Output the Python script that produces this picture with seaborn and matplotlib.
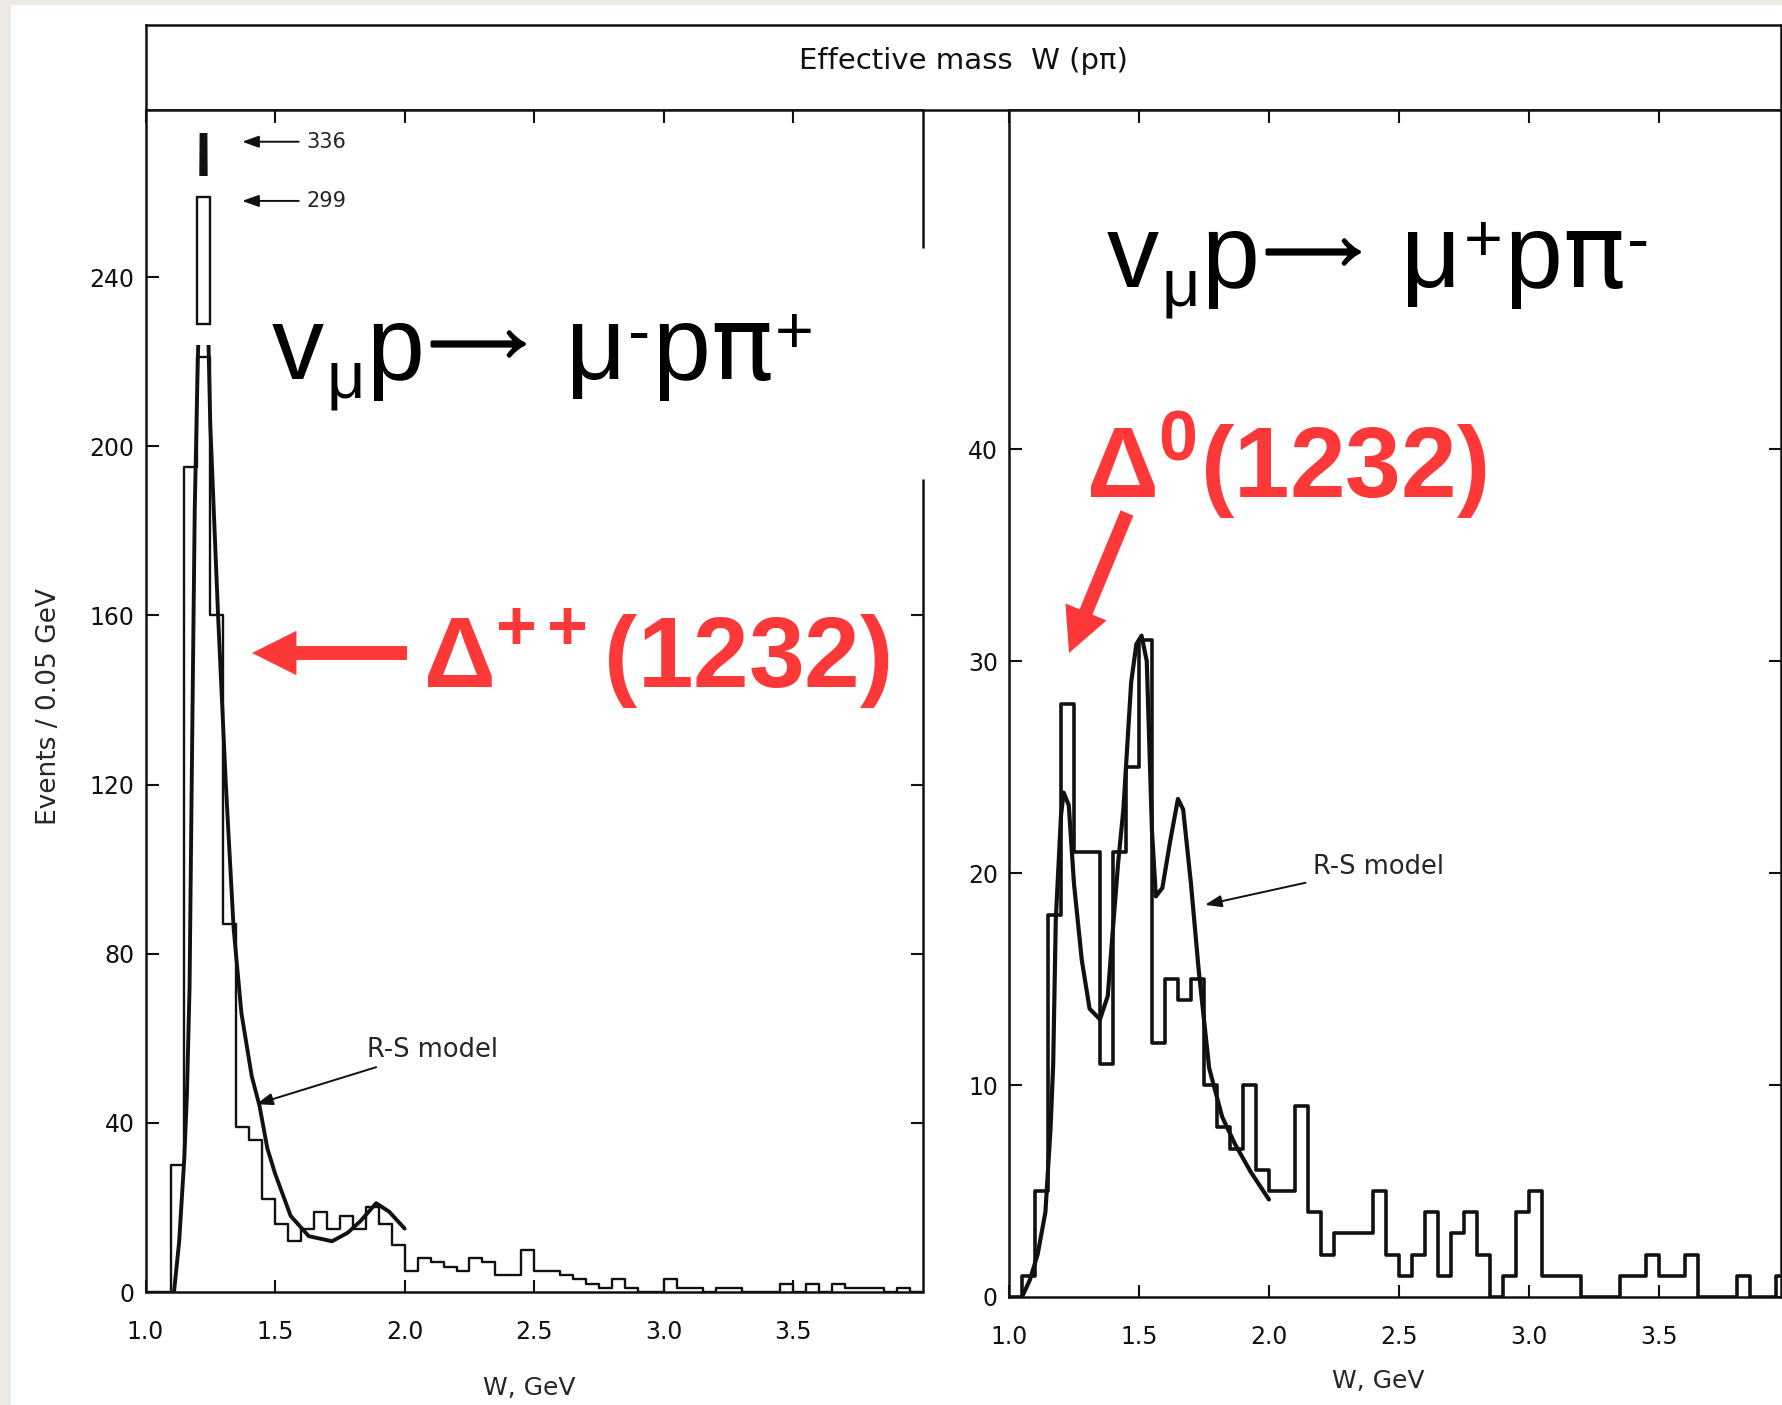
import numpy as np
import pandas as pd
import matplotlib
matplotlib.use("Agg")
import matplotlib.pyplot as plt
import matplotlib.patheffects as pe
import seaborn as sns
from matplotlib.patches import Rectangle

sns.set_style("ticks")
plt.rcParams["font.family"] = ["DejaVu Sans"]
plt.rcParams["mathtext.fontset"] = "custom"
plt.rcParams["mathtext.rm"] = "Liberation Sans"
plt.rcParams["mathtext.it"] = "Liberation Sans"
plt.rcParams["mathtext.bf"] = "Liberation Sans:bold"
plt.rcParams["mathtext.fallback"] = "stixsans"

RED = "#fd3838"
INK = "#111111"

# bins of 0.05 GeV from 1.0 to 4.0
bin_edges = [round(1.0 + 0.05 * i, 2) for i in range(61)]
bin_mid = [round(e + 0.025, 3) for e in bin_edges[:-1]]

# nu_mu p -> mu- p pi+  (events / 0.05 GeV)
counts_left = [0, 0, 30, 195, 299, 160, 87, 39, 36, 22,
               16, 12, 15, 19, 15, 18, 15, 20, 16, 11,
               5, 8, 7, 6, 5, 8, 7, 4, 4, 10,
               5, 5, 4, 3, 2, 1, 3, 1, 0, 0,
               3, 1, 1, 0, 1, 1, 0, 0, 0, 2,
               0, 2, 0, 2, 1, 1, 1, 0, 1, 0]
rs_left_w = [1.11, 1.13, 1.15, 1.16, 1.17, 1.18, 1.19, 1.20, 1.215, 1.225, 1.232,
             1.25, 1.28, 1.31, 1.34, 1.37, 1.41, 1.44, 1.47, 1.50, 1.56, 1.63,
             1.72, 1.78, 1.83, 1.89, 1.94, 2.00]
rs_left_n = [0, 12, 32, 47, 72, 130, 185, 215, 255, 336, 255,
             205, 160, 120, 86, 66, 51, 44, 34, 28, 18, 13.2,
             12, 14, 16.8, 21, 19, 15]

# anti-nu_mu p -> mu+ p pi-
counts_right = [0, 1, 5, 18, 28, 21, 21, 11, 21, 25,
                31, 12, 15, 14, 15, 10, 8, 7, 10, 6,
                5, 5, 9, 4, 2, 3, 3, 3, 5, 2,
                1, 2, 4, 1, 3, 4, 2, 0, 1, 4,
                5, 1, 1, 1, 0, 0, 0, 1, 1, 2,
                1, 1, 2, 0, 0, 0, 1, 0, 0, 1]
rs_right_w = [1.05, 1.08, 1.11, 1.14, 1.16, 1.17, 1.18, 1.20, 1.21, 1.23, 1.25,
              1.28, 1.31, 1.35, 1.38, 1.40, 1.42, 1.44, 1.47, 1.49, 1.51, 1.53,
              1.55, 1.565, 1.59, 1.62, 1.65, 1.67, 1.70, 1.73, 1.77, 1.82, 1.87,
              1.93, 2.00]
rs_right_n = [0, 0.8, 2, 4, 8, 11, 17.8, 22.7, 23.8, 23.2, 19.5,
              15.9, 13.6, 13.1, 14.2, 17.4, 20.5, 23, 29, 30.8, 31.2, 30,
              22, 18.9, 19.3, 21.5, 23.5, 23, 19.5, 15.4, 10.8, 8.5, 7.2,
              5.9, 4.6]

left_yticks = [0, 40, 80, 120, 160, 200, 240]
right_yticks = [0, 10, 20, 30, 40]
xticks = [1.0, 1.5, 2.0, 2.5, 3.0, 3.5]

W, H = 1782, 1405
fig = plt.figure(figsize=(W / 100, H / 100), dpi=100, facecolor="#edeae5")
fig.add_artist(Rectangle((11 / W, 0), 1, 1 - 5 / H, transform=fig.transFigure,
                         facecolor="white", edgecolor="none", zorder=-10))

ax_head = fig.add_axes([145.5 / W, 1 - 110 / H, (1781 - 145.5) / W, 85 / H])
axL = fig.add_axes([145.5 / W, 1 - 1292 / H, 777.5 / W, 1182 / H])
axR = fig.add_axes([1009 / W, 1 - 1297 / H, 772 / W, 1187 / H])

# header box
ax_head.set_xticks([])
ax_head.set_yticks([])
for s in ax_head.spines.values():
    s.set_linewidth(1.8)
    s.set_color(INK)
ax_head.text(0.5, 0.58, "Effective mass  W (pπ)", ha="center", va="center",
             fontsize=21, color=INK, transform=ax_head.transAxes)

# ---- left panel ----
cap_main = 221
left_df = pd.DataFrame({"W": bin_mid, "events": np.minimum(counts_left, cap_main)})
sns.histplot(data=left_df, x="W", weights="events", bins=bin_edges, element="step",
             fill=False, color=INK, linewidth=1.7, ax=axL)
sns.lineplot(x=rs_left_w, y=rs_left_n, color=INK, linewidth=2.8, sort=False, ax=axL)
axL.lines[-1].set_clip_path(Rectangle((1.0, 0), 3.0, 224, transform=axL.transData))
sns.lineplot(x=rs_left_w, y=rs_left_n, color=INK, linewidth=3.2, sort=False, ax=axL)
axL.lines[-1].set_clip_path(Rectangle((1.0, 264), 3.0, 10, transform=axL.transData))

# off-scale bin drawn as a broken box
ib = int(np.argmax(counts_left))
axL.add_patch(Rectangle((bin_edges[ib], 229), bin_edges[ib + 1] - bin_edges[ib], 30,
                        fill=False, edgecolor=INK, linewidth=1.7))
arrow_small = dict(arrowstyle="-|>,head_length=0.5,head_width=0.18", color=INK,
                   lw=1.4, mutation_scale=20, shrinkA=3, shrinkB=0)
axL.annotate(f"{max(rs_left_n):g}", xy=(1.373, 272), xytext=(1.62, 272),
             fontsize=15, va="center", ha="left", arrowprops=arrow_small)
axL.annotate(f"{counts_left[ib]}", xy=(1.373, 258), xytext=(1.62, 258),
             fontsize=15, va="center", ha="left", arrowprops=arrow_small)
axL.annotate("R-S model", xy=(1.427, 44.4), xytext=(1.856, 57.3),
             fontsize=18.5, va="center", ha="left", arrowprops=arrow_small)

axL.set_xlim(1.0, 4.0)
axL.set_ylim(0, 279.5)
axL.set_xticks(xticks)
axL.set_xticklabels([f"{t:.1f}" for t in xticks])
axL.set_yticks(left_yticks)
axL.set_xlabel("W, GeV", fontsize=18, va="center")
axL.set_ylabel("Events / 0.05 GeV", fontsize=19)
axL.xaxis.set_label_coords(0.493, -0.0812)
axL.yaxis.set_label_coords(-0.107, 0.495)

# ---- right panel ----
right_df = pd.DataFrame({"W": bin_mid, "events": counts_right})
sns.histplot(data=right_df, x="W", weights="events", bins=bin_edges, element="step",
             fill=False, color=INK, linewidth=2.6, ax=axR)
sns.lineplot(x=rs_right_w, y=rs_right_n, color=INK, linewidth=3.0, sort=False, ax=axR)
axR.annotate("R-S model", xy=(1.754, 18.5), xytext=(2.169, 20.3),
             fontsize=18.5, va="center", ha="left", arrowprops=arrow_small)
axR.set_xlim(1.0, 3.97)
axR.set_ylim(0, 56)
axR.set_xticks(xticks)
axR.set_xticklabels([f"{t:.1f}" for t in xticks])
axR.set_yticks(right_yticks)
axR.set_xlabel("W, GeV", fontsize=18, va="center")
axR.set_ylabel("")
axR.xaxis.set_label_coords(0.478, -0.0708)

for ax in (axL, axR):
    for s in ax.spines.values():
        s.set_visible(True)
        s.set_linewidth(1.8)
        s.set_color(INK)
    ax.tick_params(direction="in", length=9, width=1.5, top=True, right=True,
                   colors=INK, labelsize=17)
    ax.tick_params(axis="x", pad=20)
    ax.tick_params(axis="y", pad=8)
    ax.set_facecolor("white")

# left panel right border has a gap in the original scan
axL.spines["right"].set_visible(False)
for y0, y1 in [(0, 0.688), (0.883, 1.0)]:
    axL.plot([1, 1], [y0, y1], transform=axL.transAxes, color=INK, lw=1.8,
             clip_on=False, solid_capstyle="butt")
for t, v in zip(axL.yaxis.get_major_ticks(), left_yticks):
    if v >= 200:
        t.tick2line.set_visible(False)


# slide overlays: reaction formulas built piece by piece
renderer = fig.canvas.get_renderer()
ARROW = "ARROW"


def formula(x_px, base_px, parts):
    x = x_px
    for txt, size, rise, gap in parts:
        if txt == ARROW:
            # long thin arrow, ink-centred on the x-height middle
            t = fig.text(x / W, (H - base_px + rise) / H, r"$\longrightarrow$",
                         fontsize=size, math_fontfamily="stix", color="black",
                         ha="left", va="center")
            wpx = t.get_window_extent(renderer).width
            t.set_fontsize(size * 106 / wpx)
            t.set_path_effects([pe.withStroke(linewidth=2.2, foreground="black")])
        else:
            fam = ["DejaVu Sans"] if txt == "π" else ["Liberation Sans", "DejaVu Sans"]
            t = fig.text(x / W, (H - base_px + rise) / H, txt, fontsize=size,
                         family=fam, color="black", ha="left", va="baseline")
        x += t.get_window_extent(renderer).width + gap


MAIN, SCRIPT = 75, 48
formula(272, 379, [("v", MAIN, 0, 2), ("μ", SCRIPT, -19, 2), ("p", MAIN, 0, -5),
                   (ARROW, MAIN, 36, 40), ("μ", MAIN, 0, 2), ("-", SCRIPT, 26, 2),
                   ("p", MAIN, 0, 0), ("π", MAIN, 0, 2), ("+", SCRIPT, 26, 0)])
formula(1107, 287, [("v", MAIN, 0, 2), ("μ", SCRIPT, -19, 2), ("p", MAIN, 0, -5),
                    (ARROW, MAIN, 36, 40), ("μ", MAIN, 0, 2), ("+", SCRIPT, 26, 2),
                    ("p", MAIN, 0, 0), ("π", MAIN, 0, 2), ("-", SCRIPT, 26, 0)])

fig.text(423 / W, 1 - 687 / H, r"$\mathbf{Δ^{{+}\,{+}}\,(1232)}$",
         fontsize=72, color=RED, ha="left", va="baseline")
fig.text(1086 / W, 1 - 498 / H, r"$\mathbf{Δ^{0}(1232)}$",
         fontsize=72, color=RED, ha="left", va="baseline")

big_arrow = dict(width=10, headwidth=32, headlength=32, shrink=0,
                 color=RED, linewidth=0)
axL.annotate("", xy=(252 / W, 1 - 653 / H), xytext=(407 / W, 1 - 653 / H),
             xycoords="figure fraction", textcoords="figure fraction",
             arrowprops=big_arrow, annotation_clip=False)
axR.annotate("", xy=(1069 / W, 1 - 653 / H), xytext=(1127 / W, 1 - 513 / H),
             xycoords="figure fraction", textcoords="figure fraction",
             arrowprops=big_arrow, annotation_clip=False)

fig.savefig("out.png", dpi=100, facecolor=fig.get_facecolor())
